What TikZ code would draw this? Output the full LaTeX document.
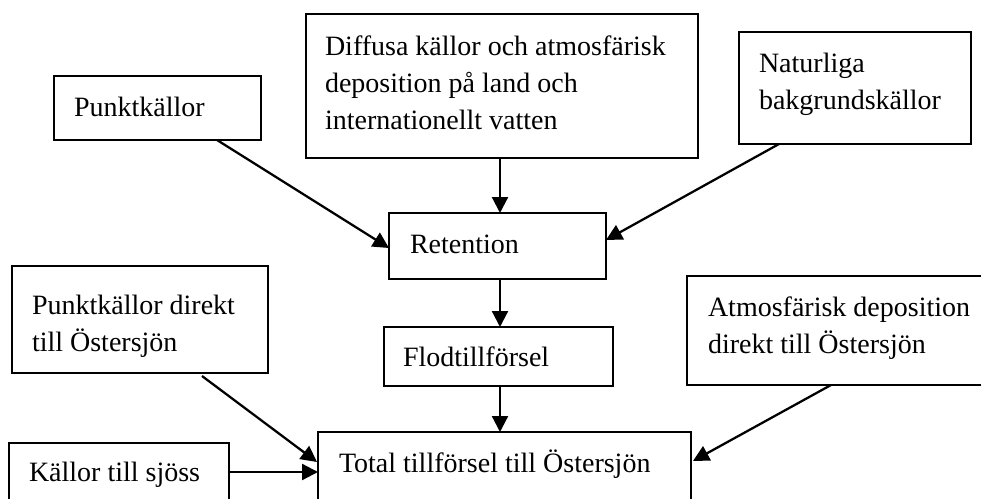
\documentclass[tikz,border=0pt]{standalone}
\usepackage{fontspec}
\setmainfont{Liberation Serif}
\usetikzlibrary{fit,calc,arrows.meta}
\tikzset{
  box/.style={draw, line width=0.8pt, inner sep=0pt, outer sep=0pt},
  lbl/.style={anchor=base west, inner sep=0pt, outer sep=0pt, align=left,
    font=\fontsize{21}{27.75}\selectfont},
  flow/.style={line width=1.7pt, -{Triangle[length=12pt,width=12pt]}},
}
\begin{document}
\begin{tikzpicture}[x=0.75pt,y=-0.75pt]
\useasboundingbox (0,0) rectangle (981,499);
% boxes
\node[box, fit={(54,76) (261,140)}] (pk) {};
\node[box, fit={(306,14) (698,158)}] (diff) {};
\node[box, fit={(739,32) (971,144)}] (nat) {};
\node[box, fit={(389,213) (606,279)}] (ret) {};
\node[box, fit={(12,266) (268,373)}] (pkd) {};
\node[box, fit={(384,327) (613,386)}] (flod) {};
\node[box, fit={(687,276) (990,385)}] (atm) {};
\node[box, fit={(318,432) (691,515)}] (tot) {};
\node[box, fit={(9,443) (229,515)}] (ks) {};
% texts (multi-line: anchored at the last line's baseline)
\node[lbl] (tpk) at (74,116.7) {Punktkällor};
\node[lbl] (tdiff) at (325,129.3) {Diffusa källor och atmosfärisk\\deposition på land och\\internationellt vatten};
\node[lbl] (tnat) at (759,110) {Naturliga\\bakgrundskällor};
\node[lbl] (tret) at (410,253.3) {Retention};
\node[lbl] (tpkd) at (32,351.7) {Punktkällor direkt\\till Östersjön};
\node[lbl] (tflod) at (403,366.7) {Flodtillförsel};
\node[lbl] (tatm) at (708,353.3) {Atmosfärisk deposition\\direkt till Östersjön};
\node[lbl] (ttot) at (339,472.3) {Total tillförsel till Östersjön};
\node[lbl] (tks) at (29,481.7) {Källor till sjöss};
% connectors
\draw[flow] ($(pk.south west)+(163,0)$) -- ($(ret.north west)+(0,35)$);
\draw[flow] ($(diff.south west)+(194,0)$) -- ($(ret.north west)+(111,0)$);
\draw[flow] ($(nat.south west)+(40,0)$) -- ($(ret.north east)+(0,27)$);
\draw[flow] ($(ret.south west)+(111,0)$) -- ($(flod.north west)+(116,0)$);
\draw[flow] ($(flod.south west)+(116,0)$) -- ($(tot.north west)+(182,0)$);
\draw[flow] ($(pkd.south west)+(190,3)$) -- ($(tot.north west)+(-1,30)$);
\draw[flow] ($(ks.north east)+(0,29)$) -- ($(tot.north west)+(0,40)$);
\draw[flow] ($(atm.south west)+(144,0)$) -- ($(tot.north east)+(2,29)$);
\end{tikzpicture}
\end{document}
